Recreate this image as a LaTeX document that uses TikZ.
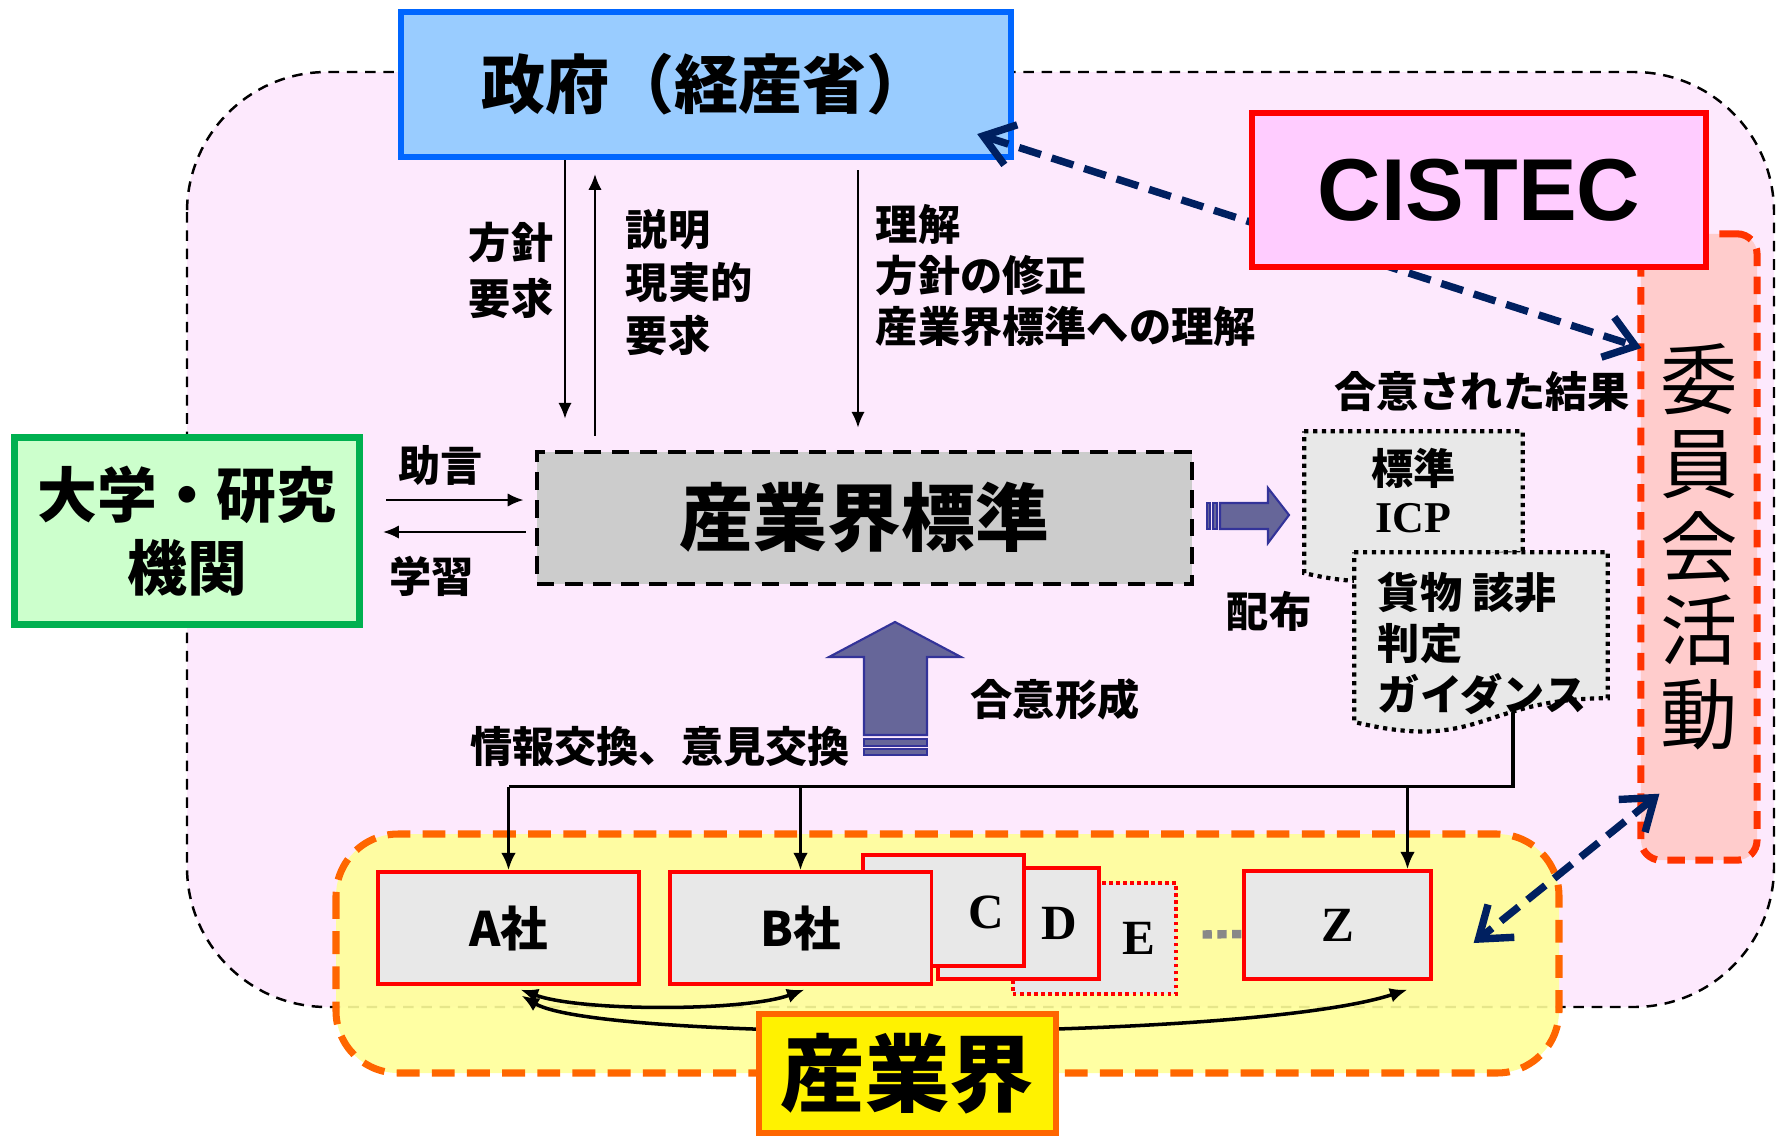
\documentclass[tikz,border=0pt]{standalone}
\usepackage{fontspec}
\setmainfont{Noto Sans CJK JP}
\newfontfamily\latinsans{Liberation Sans}
\newfontfamily\latinserif{Liberation Serif}
\usepackage{xcolor}
\usepackage{tikz}
\usetikzlibrary{calc, positioning, arrows.meta}

\definecolor{zonepink}{HTML}{FDE9FD}
\definecolor{zoneyellow}{HTML}{FFFF99}
\definecolor{govfill}{HTML}{99CCFF}
\definecolor{govline}{HTML}{0066FF}
\definecolor{cistecfill}{HTML}{FFCCFF}
\definecolor{committeefill}{HTML}{FFCCCC}
\definecolor{committeeline}{HTML}{FF3300}
\definecolor{unifill}{HTML}{CCFFCC}
\definecolor{uniline}{HTML}{00B050}
\definecolor{stdfill}{HTML}{CCCCCC}
\definecolor{docfill}{HTML}{E8E8E8}
\definecolor{industryline}{HTML}{FF6600}
\definecolor{navyline}{HTML}{002060}
\definecolor{arrowfill}{HTML}{666699}
\definecolor{arrowline}{HTML}{333399}
\definecolor{dotgray}{HTML}{888888}

\begin{document}
\begin{tikzpicture}[x=0.01cm, y=-0.01cm,
		lbl/.style={inner sep=0pt, align=left, font=\bfseries\fontsize{12}{15}\selectfont},
		govbox/.style={draw=govline, fill=govfill, line width=1.7pt, inner sep=0pt, minimum width=6.1cm, minimum height=1.45cm, font=\bfseries\fontsize{18.2}{18.2}\selectfont},
		cistecbox/.style={draw=red, fill=cistecfill, line width=1.8pt, inner sep=0pt, minimum width=4.54cm, minimum height=1.54cm, font=\latinsans\bfseries\fontsize{25}{25}\selectfont},
		committeebox/.style={draw=committeeline, fill=committeefill, line width=2pt, dash pattern=on 5pt off 3pt, rounded corners=0.2cm, inner sep=0pt, minimum width=1.16cm, minimum height=6.26cm, align=center, font=\fontsize{22}{23.8}\selectfont},
		unibox/.style={draw=uniline, fill=unifill, line width=2pt, inner sep=0pt, minimum width=3.45cm, minimum height=1.87cm, align=center, font=\bfseries\fontsize{17}{20.9}\selectfont},
		stdbox/.style={draw, fill=stdfill, line width=1.3pt, dash pattern=on 5pt off 3pt, inner sep=0pt, minimum width=6.55cm, minimum height=1.32cm, font=\bfseries\fontsize{21}{21}\selectfont},
		company/.style={draw=red, fill=docfill, line width=0.9pt, inner sep=0pt, font=\bfseries\fontsize{13.5}{13.5}\selectfont},
		letter/.style={inner sep=0pt, font=\latinserif\bfseries\fontsize{14}{14}\selectfont},
		industrybox/.style={draw=industryline, fill=yellow, line width=1.8pt, inner sep=0pt, minimum width=2.97cm, minimum height=1.19cm, font=\bfseries\fontsize{24}{24}\selectfont},
		docarea/.style={inner sep=0pt},
		docline/.style={draw, fill=docfill, line width=1.2pt, dash pattern=on 1.2pt off 1.3pt},
		thinarrow/.style={line width=0.6pt, -{Latex[length=4.5pt,width=3.8pt]}},
		feedline/.style={line width=1pt},
		feedarrow/.style={line width=1pt, -{Latex[length=5pt,width=4.2pt]}},
		linkarrow/.style={line width=1pt, {Latex[length=5pt,width=4.2pt]}-{Latex[length=5pt,width=4.2pt]}},
		navyarrow/.style={draw=navyline, line width=2.1pt, dash pattern=on 6.5pt off 3.2pt, {Straight Barb[length=2.9mm,width=4.2mm]}-{Straight Barb[length=2.9mm,width=4.2mm]}},
		blockarrow/.style={fill=arrowfill, draw=arrowline, line width=0.6pt},
		dotline/.style={draw=dotgray, line width=2.4pt, dash pattern=on 2.6pt off 1.6pt}]

	\useasboundingbox (0,0) rectangle (1781,1136);

	\newcommand{\drawDocShape}[1]
	{
		\path[docline] (#1.north west) -- (#1.north east) -- ($(#1.north east)!0.8!(#1.south east)$)
			.. controls ($(#1.north)!0.8!(#1.south)$) and ($(#1.north)!1.1!(#1.south)$) .. ($(#1.north west)!0.93!(#1.south west)$) -- cycle;
	}

	\begin{scope}
		\path[fill=zonepink, draw, line width=0.7pt, dash pattern=on 3pt off 2.2pt, rounded corners=1.4cm] (187,72) rectangle (1774,1007);
		\path[fill=zoneyellow, fill opacity=0.9, draw=industryline, line width=2pt, dash pattern=on 6.5pt off 3.5pt, rounded corners=0.62cm] (336,834) rectangle (1559,1073);
	\end{scope}

	\node[govbox] (gov) at (706,84.5) {政府（経産省）};
	\node[committeebox] (committee) at (1699,547) {委\\員\\会\\活\\動};
	\draw[navyarrow] ($(gov.south east)+(-37,-26)$) -- ($(committee.west)+(4,-199)$);
	\node[cistecbox] (cistec) at (1479,190) {CISTEC};

	\node[unibox] (uni) at (187,531) {大学・研究\\機関};
	\node[stdbox] (std) at (864.5,518) {産業界標準};

	\begin{scope}
		\coordinate (policyx) at (565,0);
		\coordinate (reportx) at (595,0);
		\coordinate (reviewx) at (858,0);
		\draw[thinarrow, shorten >=0.31cm] (gov.south -| policyx) -- (std.north -| policyx) node[lbl, pos=0.38, left=3pt, font=\bfseries\fontsize{12}{15.9}\selectfont] (policylbl) {方針\\要求};
		\draw[thinarrow, shorten <=0.14cm, shorten >=0.14cm] (std.north -| reportx) -- (gov.south -| reportx) node[lbl, pos=0.577, right=8.5pt] (reportlbl) {説明\\現実的\\要求};
		\draw[thinarrow, shorten <=0.1cm, shorten >=0.22cm] (gov.south -| reviewx) -- (std.north -| reviewx) node[lbl, pos=0.4, right=4.8pt, font=\bfseries\fontsize{12}{14.5}\selectfont] (reviewlbl) {理解\\方針の修正\\産業界標準への理解};
	\end{scope}

	\begin{scope}
		\coordinate (advice) at (0,500);
		\coordinate (learn) at (0,532);
		\draw[thinarrow, shorten <=0.23cm, shorten >=0.11cm] (uni.east |- advice) -- (std.west |- advice) node[lbl, pos=0.45, above=3.7pt] (advicelbl) {助言};
		\draw[thinarrow, shorten <=0.09cm, shorten >=0.2cm] (std.west |- learn) -- (uni.east |- learn) node[lbl, pos=0.6, below=6.5pt] (learnlbl) {学習};
	\end{scope}

	\begin{scope}
		\filldraw[blockarrow] (895,622) -- (961,657) -- (927,657) -- (927,735) -- (864,735) -- (864,657) -- (829,657) -- cycle;
		\filldraw[blockarrow] (864,739) rectangle (927,746);
		\filldraw[blockarrow] (864,749) rectangle (927,755);
		\filldraw[blockarrow] (1289,515) -- (1268,488) -- (1268,503) -- (1220,503) -- (1220,529) -- (1268,529) -- (1268,543) -- cycle;
		\filldraw[blockarrow] (1207,503) rectangle (1210,529);
		\filldraw[blockarrow] (1213,503) rectangle (1217,529);
	\end{scope}

	\node[lbl] (agreed) at (1482,392) {合意された結果};
	\node[lbl] (distrib) at (1269,611) {配布};
	\node[lbl] (consensus) at (1055,699) {合意形成};
	\node[lbl] (exchange) at (660,747) {情報交換、意見交換};

	\begin{scope}
		\node[company, minimum width=1.63cm, minimum height=1.11cm, dash pattern=on 1pt off 1pt] (E) at (1094.5,938.5) {};
		\node[letter] (Etxt) at ($(E.east)+(-39,0)$) {E};
		\node[company, minimum width=1.61cm, minimum height=1.11cm] (D) at (1018.5,923.5) {};
		\node[letter] (Dtxt) at ($(D.east)+(-41,0)$) {D};
		\node[company, minimum width=1.61cm, minimum height=1.11cm] (C) at (943.5,910.5) {};
		\node[letter] (Ctxt) at ($(C.east)+(-39,2)$) {C};
		\node[company, minimum width=2.61cm, minimum height=1.12cm] (B) at (800.5,928) {B社};
		\node[company, minimum width=2.61cm, minimum height=1.12cm] (A) at (508.5,928) {A社};
		\node[company, minimum width=1.87cm, minimum height=1.08cm, font=\latinserif\bfseries\fontsize{14}{14}\selectfont] (Z) at (1337.5,925) {Z};
		\draw[dotline] ($(E.east)+(25,-4)$) -- ($(Z.west)+(0,9)$);
	\end{scope}

	\node[docarea, minimum width=2.17cm, minimum height=1.51cm] (doc1) at (1413.5,507.5) {};
	\node[docarea, minimum width=2.52cm, minimum height=1.81cm] (doc2) at (1481,643.5) {};

	\begin{scope}
		\coordinate (feed) at ($(doc2.center)+(32,0)$);
		\coordinate (bus) at ($(feed)+(0,143)$);
		\coordinate (zdrop) at ($(Z.north)+(70,0)$);
		\draw[feedline] (feed) -- (bus) -- (bus -| A.north);
		\draw[feedarrow] (bus -| A.north) -- (A.north);
		\draw[feedarrow] (bus -| B.north) -- (B.north);
		\draw[feedarrow] (bus -| zdrop) -- (zdrop);
	\end{scope}

	\drawDocShape{doc1}
	\drawDocShape{doc2}
	\node[lbl, align=center, font=\bfseries\fontsize{12}{13.6}\selectfont] (doc1txt) at ($(doc1)+(0,-17)$) {標準\\{\latinserif\fontsize{12.5}{13.6}\selectfont ICP}};
	\node[lbl, anchor=west, font=\bfseries\fontsize{12}{14.5}\selectfont] (doc2txt) at ($(doc2.west)+(23,0)$) {貨物 該非\\判定\\ガイダンス};

	\begin{scope}
		\draw[linkarrow] ($(A.south)+(12,4)$) .. controls ($(A.south)+(72,26)$) and ($(B.south)+(-56,26)$) .. ($(B.south)+(4,4)$);
		\draw[linkarrow] ($(A.south)+(13,10)$) .. controls ($(A.south)+(93,57)$) and ($(Z.south)+(-90,61)$) .. ($(Z.south)+(70,9)$);
	\end{scope}

	\node[industrybox] (industry) at (907.5,1073.5) {産業界};
	\draw[navyarrow] ($(committee.south west)+(22,-70)$) -- ($(Z.east)+(41,18)$);
\end{tikzpicture}
\end{document}
